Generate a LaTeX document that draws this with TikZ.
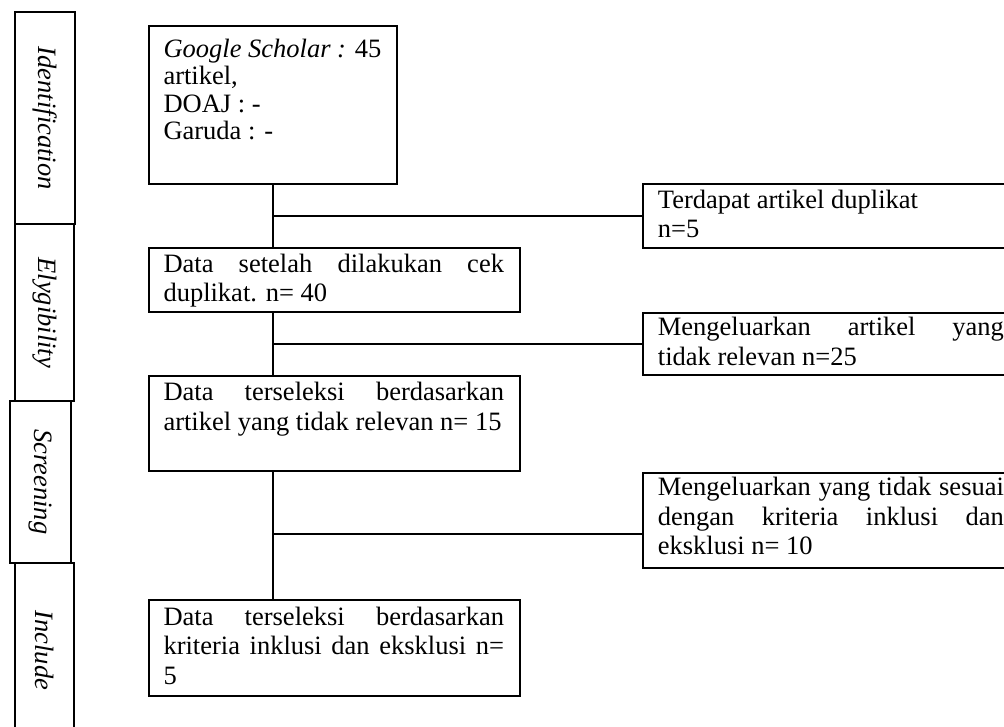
\documentclass[tikz,border=0pt]{standalone}
\usepackage{fontspec}
\setmainfont{Liberation Serif}
\begin{document}
\begin{tikzpicture}[x=1pt,y=-1pt,
  frame/.style={draw, line width=2pt, rectangle, inner sep=0pt, anchor=north west},
  tabbox/.style={draw, line width=2.2pt, rectangle, inner sep=0pt, anchor=north west},
  txt/.style={anchor=base west, inner sep=0pt, align=justify, font=\fontsize{26.5}{29.7}\selectfont},
  tabtxt/.style={rotate=-90, inner sep=0pt, font=\fontsize{26.5}{30}\selectfont\itshape},
  conn/.style={line width=2pt}]
\useasboundingbox (0,0) rectangle (1004,727);
\clip (0,0) rectangle (1004,727);

% side tabs
\node[tabbox, minimum width=60.3pt, minimum height=212.3pt] (t1) at (13.6,11) {};
\node[tabbox, minimum width=59.6pt, minimum height=176.7pt] (t2) at (13.6,223.3) {};
\node[tabbox, minimum width=60.7pt, minimum height=161.7pt] (t3) at (8.9,400) {};
\node[tabbox, minimum width=59.6pt, minimum height=175pt] (t4) at (13.6,561.7) {};
\node[tabtxt] (l1) at (t1.center) {Identification};
\node[tabtxt] (l2) at (t2.center) {Elygibility};
\node[tabtxt] (l3) at (t3.center) {Screening};
\node[tabtxt] (l4) at (t4.center) {Include};

% left column boxes
\node[frame, minimum width=248.1pt, minimum height=157.7pt] (b1) at (148.3,25) {};
\node[frame, minimum width=370.7pt, minimum height=64.3pt] (b2) at (148.3,246.7) {};
\node[frame, minimum width=370.7pt, minimum height=95pt] (b3) at (148.3,375) {};
\node[frame, minimum width=370.7pt, minimum height=95.2pt] (b4) at (148.3,599.3) {};

% right column boxes
\node[frame, minimum width=376pt, minimum height=64pt] (r1) at (642.3,182.7) {};
\node[frame, minimum width=376pt, minimum height=62.6pt] (r2) at (642.3,311.7) {};
\node[frame, minimum width=376pt, minimum height=95pt] (r3) at (642.3,471.7) {};

% texts
\node[txt, text width=340.5pt, font=\fontsize{26.5}{27.5}\selectfont] (x1) at (163.3,57.5)
  {\textit{Google Scholar :} 45\newline artikel,\newline DOAJ : -\newline Garuda : -};
\node[txt, text width=340.5pt] (x2) at (163.3,272.3)
  {Data setelah dilakukan cek\linebreak \mbox{duplikat. n= 40}};
\node[txt, text width=340.5pt] (x3) at (163.3,400.6)
  {Data terseleksi berdasarkan\linebreak \mbox{artikel yang tidak relevan n= 15}};
\node[txt, text width=340.5pt] (x4) at (163.3,625)
  {Data terseleksi berdasarkan\linebreak kriteria inklusi dan eksklusi n=\linebreak \mbox{5}};
\node[txt, text width=346pt] (y1) at (657.7,208.3)
  {Terdapat artikel duplikat\newline n=5};
\node[txt, text width=346pt] (y2) at (657.7,336)
  {Mengeluarkan artikel yang\linebreak \mbox{tidak relevan n=25}};
\node[txt, text width=346pt] (y3) at (657.7,495.5)
  {Mengeluarkan yang tidak sesuai\linebreak dengan kriteria inklusi dan\linebreak \mbox{eksklusi n= 10}};

% connectors
\draw[conn] (b1.south) -- (b1.south |- b2.north);
\draw[conn] (b1.south |- b2.south) -- (b1.south |- b3.north);
\draw[conn] (b1.south |- b3.south) -- (b1.south |- b4.north);
\coordinate (j1) at (b1.south |- r1.west);
\coordinate (j2) at (b1.south |- r2.west);
\coordinate (j3) at (272.35,534.3);
\draw[conn] (j1) -- (r1.west);
\draw[conn] (j2) -- (r2.west);
\draw[conn] (j3) -- (j3 -| r3.west);
\end{tikzpicture}
\end{document}
